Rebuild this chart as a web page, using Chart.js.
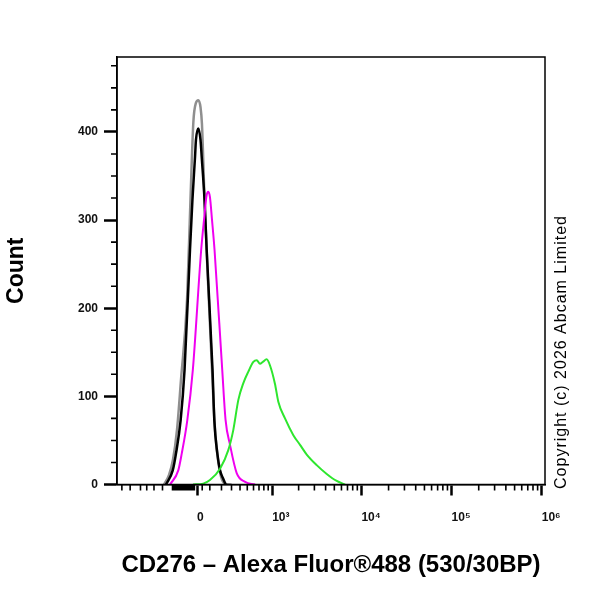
<!DOCTYPE html>
<html>
<head>
<meta charset="utf-8">
<script src="https://cdn.jsdelivr.net/npm/chart.js@4.4.1/dist/chart.umd.min.js"></script>
<style>
  html, body { margin: 0; padding: 0; background: #fff; }
  #wrap { width: 600px; height: 600px; }
</style>
</head>
<body>
<div id="wrap"><canvas id="histChart"></canvas></div>
<script>
// fluorescence values (x) and event counts (y)
const grayX      = [-284, -233, -196, -160, -126, -77, -50, -28, -8, 10, 27, 38, 58, 81, 118, 143, 169, 196, 233, 300];
const grayCounts = [0, 11, 28, 62, 119, 210, 324, 411, 433, 436, 428, 409, 324, 244, 130, 62, 28, 9, 1, 0];

const blackX      = [-263, -198, -169, -129, -97, -54, -35, -15, -8, 10, 27, 36, 58, 75, 122, 137, 163, 187, 214, 240];
const blackCounts = [0, 16, 35, 73, 130, 266, 323, 372, 391, 404, 391, 372, 323, 266, 130, 73, 35, 16, 7, 0];

const magentaX      = [-223, -149, -120, -75, -32, 32, 58, 73, 88, 101, 118, 139, 207, 239, 284, 359, 468, 626];
const magentaCounts = [0, 16, 35, 73, 130, 266, 306, 327, 332, 326, 300, 266, 130, 73, 45, 13, 3, 0];

const greenX      = [-31, 48, 101, 187, 266, 320, 379, 444, 516, 597, 657, 720, 775, 864, 945, 1079, 1178, 1404, 1744, 2073, 2464, 3183, 4114, 5313, 6570];
const greenCounts = [0, 1, 5, 18, 39, 62, 96, 115, 128, 139, 141, 137, 139, 142, 135, 114, 94, 75, 56, 45, 34, 22, 12, 4, 0];

// axis ticks
const xMajorTicks  = [0, 1e3, 1e4, 1e5, 1e6];
const xMajorLabels = ['0', '10³', '10⁴', '10⁵', '10⁶'];
const xLinearMinor = [-1000, -800, -600, -500, -400, -300,
                      -200, -190, -180, -170, -160, -150, -140, -130, -120, -110, -100,
                      -90, -80, -70, -60, -50, -40, -30, -20, 40,
                      100, 200, 300, 400, 500, 600, 700, 800, 900];
const yMajorTicks  = [0, 100, 200, 300, 400];
const yMinorTicks  = [25, 50, 75, 125, 150, 175, 225, 250, 275, 325, 350, 375, 425, 450, 475];

// log minors between the decades (2..9 x 10^n)
const xMinorTicks = xLinearMinor.slice();
[1e3, 1e4, 1e5].forEach(d => {
    for (let k = 2; k <= 9; k++) xMinorTicks.push(k * d);
});

const BIEX_W = 300;
function biex(v) { return Math.asinh(v / BIEX_W); }
function biexInv(t) { return Math.sinh(t) * BIEX_W; }

// biexponential axis like the cytometry software uses
class BiexScale extends Chart.LinearScale {
    configure() {
        super.configure();
        this._tMin = biex(this.min);
        this._tRange = biex(this.max) - this._tMin;
    }
    buildTicks() {
        return xMajorTicks.map(v => ({ value: v }));
    }
    getPixelForValue(value) {
        return this.getPixelForDecimal((biex(value) - this._tMin) / this._tRange);
    }
    getValueForPixel(pixel) {
        return biexInv(this._tMin + this.getDecimalForPixel(pixel) * this._tRange);
    }
}
BiexScale.id = 'biex';
BiexScale.defaults = Chart.LinearScale.defaults;
Chart.register(BiexScale);

function toPoints(xs, ys) {
    return xs.map((x, i) => ({ x: x, y: ys[i] }));
}

const FONT = '"Liberation Sans", Arial, sans-serif';

// minor ticks, frame and copyright line
const extras = {
    id: 'extras',
    afterDraw(chart) {
        const { ctx, chartArea, scales } = chart;
        ctx.save();
        ctx.strokeStyle = '#000';
        ctx.lineWidth = 1.6;
        ctx.beginPath();
        xMinorTicks.forEach(v => {
            const px = scales.x.getPixelForValue(v);
            ctx.moveTo(px, chartArea.bottom);
            ctx.lineTo(px, chartArea.bottom + 6);
        });
        yMinorTicks.forEach(v => {
            const py = scales.y.getPixelForValue(v);
            ctx.moveTo(chartArea.left, py);
            ctx.lineTo(chartArea.left - 6, py);
        });
        ctx.stroke();

        ctx.lineWidth = 1.5;
        ctx.strokeRect(chartArea.left, chartArea.top, chartArea.right - chartArea.left, chartArea.bottom - chartArea.top);

        ctx.translate(562, 352);
        ctx.rotate(-Math.PI / 2);
        ctx.fillStyle = '#000';
        ctx.font = '16px ' + FONT;
        ctx.letterSpacing = '1px';
        ctx.textAlign = 'center';
        ctx.textBaseline = 'middle';
        ctx.fillText('Copyright (c) 2026 Abcam Limited', 0, 0);
        ctx.restore();
    }
};

const ctx = document.getElementById('histChart').getContext('2d');
new Chart(ctx, {
    type: 'line',
    data: {
        datasets: [
            { label: 'Isotype control', data: toPoints(grayX, grayCounts), borderColor: '#8f8f8f', borderWidth: 2.5, order: 4 },
            { label: 'Unlabelled control', data: toPoints(blackX, blackCounts), borderColor: '#000000', borderWidth: 2.5, order: 3 },
            { label: 'Secondary only', data: toPoints(magentaX, magentaCounts), borderColor: '#f000f0', borderWidth: 2, order: 2 },
            { label: 'CD276', data: toPoints(greenX, greenCounts), borderColor: '#2ee62e', borderWidth: 2, order: 1 }
        ]
    },
    options: {
        responsive: true,
        maintainAspectRatio: false,
        animation: false,
        layout: { padding: { left: 0, right: 55, top: 57, bottom: 0 } },
        elements: {
            point: { radius: 0 },
            line: { cubicInterpolationMode: 'monotone', fill: false }
        },
        plugins: {
            legend: { display: false },
            tooltip: { enabled: false }
        },
        scales: {
            x: {
                type: 'biex',
                min: -1138,
                max: 1087000,
                afterFit: s => { s.height = 115.5; },
                grid: { drawOnChartArea: false, tickLength: 11, tickWidth: 2.5, tickColor: '#000' },
                border: { display: true, color: '#000', width: 1.5 },
                ticks: {
                    align: 'start',
                    maxRotation: 0,
                    autoSkip: false,
                    padding: 15,
                    color: '#111',
                    font: { family: FONT, size: 12, weight: 'bold' },
                    callback: (v, i) => xMajorLabels[i]
                },
                title: {
                    display: true,
                    text: 'CD276 – Alexa Fluor®488 (530/30BP)',
                    color: '#000',
                    font: { family: FONT, size: 24, weight: 'bold' },
                    padding: { bottom: 20 }
                }
            },
            y: {
                type: 'linear',
                min: 0,
                max: 485,
                afterFit: s => { s.width = 117; },
                afterBuildTicks: s => { s.ticks = yMajorTicks.map(v => ({ value: v })); },
                grid: { drawOnChartArea: false, tickLength: 13, tickWidth: 2.5, tickColor: '#000' },
                border: { display: true, color: '#000', width: 1.5 },
                ticks: {
                    padding: 6,
                    color: '#111',
                    font: { family: FONT, size: 12, weight: 'bold' }
                },
                title: {
                    display: true,
                    text: 'Count',
                    color: '#000',
                    font: { family: FONT, size: 23, weight: 'bold' },
                    padding: { top: 3 }
                }
            }
        }
    },
    plugins: [extras]
});
</script>
</body>
</html>
